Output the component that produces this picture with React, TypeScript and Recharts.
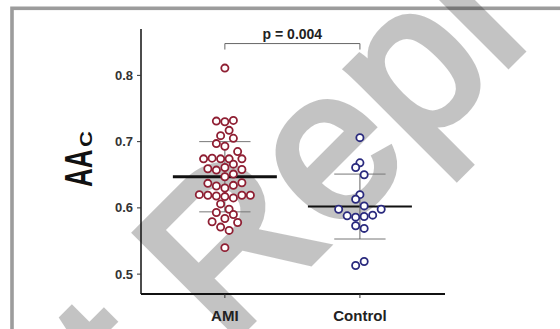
import React from 'react';
import { ScatterChart, Scatter, XAxis, YAxis, ReferenceLine } from 'recharts';

const GROUPS = ['AMI', 'Control'];
const Y_TICKS = [0.5, 0.6, 0.7, 0.8];

// jitter column (half-dot steps) and AAc value for each subject
const AMI_COL = [0, -2, 0, 2, 1, -1, 2, -2, 0, 3, -5, -3, -1, 1, 4, 2, 0, -4, -2, 4, 2, 0, -4, -2, 0, 2, 4, -6, -4, -2, 0, 2, 4, 6, -1, 1, -2, 2, 0, -3, 3, -1, 1, 0];
const AMI_VAL = [0.811, 0.731, 0.730, 0.732, 0.717, 0.709, 0.705, 0.697, 0.693, 0.685, 0.674, 0.675, 0.674, 0.674, 0.674, 0.666, 0.661, 0.659, 0.657, 0.658, 0.651, 0.647, 0.637, 0.633, 0.630, 0.634, 0.638, 0.620, 0.619, 0.618, 0.617, 0.615, 0.619, 0.619, 0.606, 0.598, 0.593, 0.590, 0.584, 0.579, 0.578, 0.571, 0.566, 0.540];

const CTRL_COL = [0, 0, -1, 1, 0, -1, 1, -5, 5, -3, -1, 1, 3, -1, 1, -1, 1];
const CTRL_VAL = [0.706, 0.668, 0.661, 0.650, 0.620, 0.613, 0.603, 0.598, 0.598, 0.588, 0.586, 0.587, 0.589, 0.573, 0.569, 0.513, 0.519];

// mean, mean - SD, mean + SD as drawn
const AMI_STATS = [0.647, 0.594, 0.700];
const CTRL_STATS = [0.602, 0.553, 0.651];
const P_LABEL = 'p = 0.004';
const WATERMARK = 'Not Repl';

const STEP = 0.0315;
const toPoints = (cols: number[], vals: number[], g: number) =>
  vals.map((v, i) => ({ x: g + cols[i] * STEP, y: v }));

const amiData = toPoints(AMI_COL, AMI_VAL, 1);
const ctrlData = toPoints(CTRL_COL, CTRL_VAL, 2);

const FONT = '"Liberation Sans", Arial, sans-serif';

const dot = (color: string) => (props: any) => (
  <circle cx={props.cx} cy={props.cy} r={3.6} fill="#fff" stroke={color} strokeWidth={1.8} />
);

const AxisTitle = () => (
  <g fontFamily={FONT} fontWeight="bold" fill="#111">
    <text transform="translate(92,187) rotate(-90) scale(0.68,1)" fontSize={38}>AA</text>
    <text transform="translate(92,147) rotate(-90) scale(1.3,1)" fontSize={17}>C</text>
  </g>
);

const statLines = (g: number, stats: number[], w: number) => [
  <ReferenceLine key={`m${g}`} segment={[{ x: g - 0.385, y: stats[0] }, { x: g + 0.385, y: stats[0] }]} stroke="#111" strokeWidth={w} />,
  <ReferenceLine key={`l${g}`} segment={[{ x: g - 0.19, y: stats[1] }, { x: g + 0.19, y: stats[1] }]} stroke="#777" strokeWidth={1} />,
  <ReferenceLine key={`h${g}`} segment={[{ x: g - 0.19, y: stats[2] }, { x: g + 0.19, y: stats[2] }]} stroke="#777" strokeWidth={1} />,
  <ReferenceLine key={`v${g}`} segment={[{ x: g, y: stats[1] }, { x: g, y: stats[2] }]} stroke="#666" strokeWidth={1} />,
];

export default function App() {
  return (
    <div style={{ position: 'absolute', left: 0, top: 0, width: 560, height: 329, background: '#fff', overflow: 'hidden' }}>
      <svg width={560} height={329} style={{ position: 'absolute', left: 0, top: 0 }}>
        <rect x={12} y={8.3} width={700} height={500} fill="none" stroke="#9c9c9c" strokeWidth={3.6} />
        <g opacity={0.23}>
          <text
            x={-159}
            y={347}
            transform="rotate(-45 226 347)"
            fontFamily={FONT}
            fontSize={210}
            fill="#000"
            stroke="#000"
            strokeWidth={7}
            strokeLinejoin="miter"
          >
            {WATERMARK}
          </text>
        </g>
      </svg>
      <div style={{ position: 'absolute', left: 0, top: 0 }}>
        <ScatterChart width={560} height={329} margin={{ top: 29, right: 115, bottom: 5, left: 0 }}>
          <XAxis
            dataKey="x"
            type="number"
            domain={[0.379, 2.63]}
            ticks={[1, 2]}
            tickFormatter={(v: number) => GROUPS[v - 1]}
            axisLine={{ stroke: '#111', strokeWidth: 2 }}
            tickLine={{ stroke: '#333' }}
            tickSize={4}
            tickMargin={12}
            height={30}
            tick={{ fill: '#222', fontSize: 15, fontWeight: 'bold', fontFamily: FONT }}
          />
          <YAxis
            dataKey="y"
            type="number"
            domain={[0.47, 0.87]}
            ticks={Y_TICKS}
            tickFormatter={(v: number) => v.toFixed(1)}
            axisLine={{ stroke: '#111', strokeWidth: 1.5 }}
            tickLine={{ stroke: '#333' }}
            tickSize={4}
            tickMargin={4}
            width={141}
            tick={{ fill: '#333', fontSize: 13, fontWeight: 'bold', fontFamily: FONT }}
            label={{ content: () => <AxisTitle /> }}
          />
          <Scatter data={amiData} shape={dot('#8f1f33')} isAnimationActive={false} />
          <Scatter data={ctrlData} shape={dot('#2a2a7e')} isAnimationActive={false} />
          {statLines(1, AMI_STATS, 3)}
          {statLines(2, CTRL_STATS, 2)}
          <ReferenceLine segment={[{ x: 1, y: 0.848 }, { x: 2, y: 0.848 }]} stroke="#666" strokeWidth={1}
            label={{ value: P_LABEL, position: 'top', offset: 5, fill: '#222', fontSize: 14, fontWeight: 'bold', fontFamily: FONT }} />
          <ReferenceLine segment={[{ x: 1, y: 0.848 }, { x: 1, y: 0.839 }]} stroke="#666" strokeWidth={1} />
          <ReferenceLine segment={[{ x: 2, y: 0.848 }, { x: 2, y: 0.839 }]} stroke="#666" strokeWidth={1} />
        </ScatterChart>
      </div>
    </div>
  );
}
